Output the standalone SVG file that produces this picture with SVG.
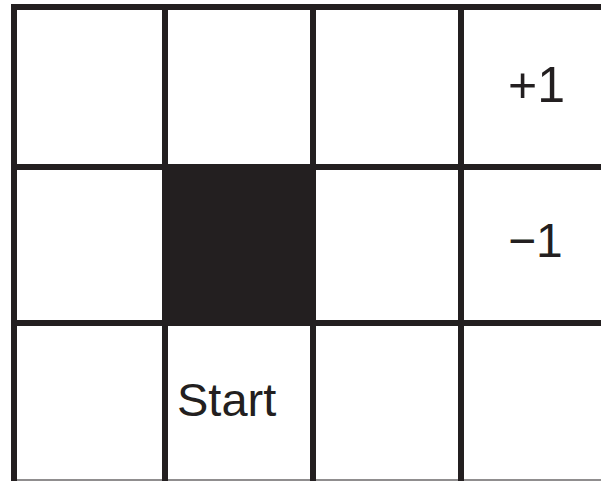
<svg xmlns="http://www.w3.org/2000/svg" width="601" height="481" viewBox="0 0 601 481">
<style>
.ln{stroke:#231f20;stroke-width:6;fill:none}
.thin{stroke:#231f20;stroke-width:1.2;fill:none}
.lbl{font-family:"Liberation Sans",Arial,sans-serif;fill:#231f20}
</style>
<rect x="0" y="0" width="601" height="481" fill="#ffffff"/>
<g id="wall">
<rect x="162" y="164" width="154" height="162" fill="#231f20"/>
</g>
<g id="grid">
<line class="ln" x1="11" y1="7" x2="601" y2="7"/>
<line class="ln" x1="11" y1="167" x2="601" y2="167"/>
<line class="ln" x1="11" y1="323" x2="601" y2="323"/>
<line class="thin" x1="11" y1="480" x2="601" y2="480"/>
<line class="ln" x1="14" y1="4" x2="14" y2="481"/>
<line class="ln" x1="165" y1="4" x2="165" y2="481"/>
<line class="ln" x1="313" y1="4" x2="313" y2="481"/>
<line class="ln" x1="461" y1="4" x2="461" y2="481"/>
</g>
<g id="plus1">
<text class="lbl" x="508" y="102" font-size="50">+1</text>
</g>
<g id="minus1">
<text class="lbl" x="508" y="257" font-size="48">−1</text>
</g>
<g id="start">
<text class="lbl" x="177" y="416" font-size="47">Start</text>
</g>
</svg>
